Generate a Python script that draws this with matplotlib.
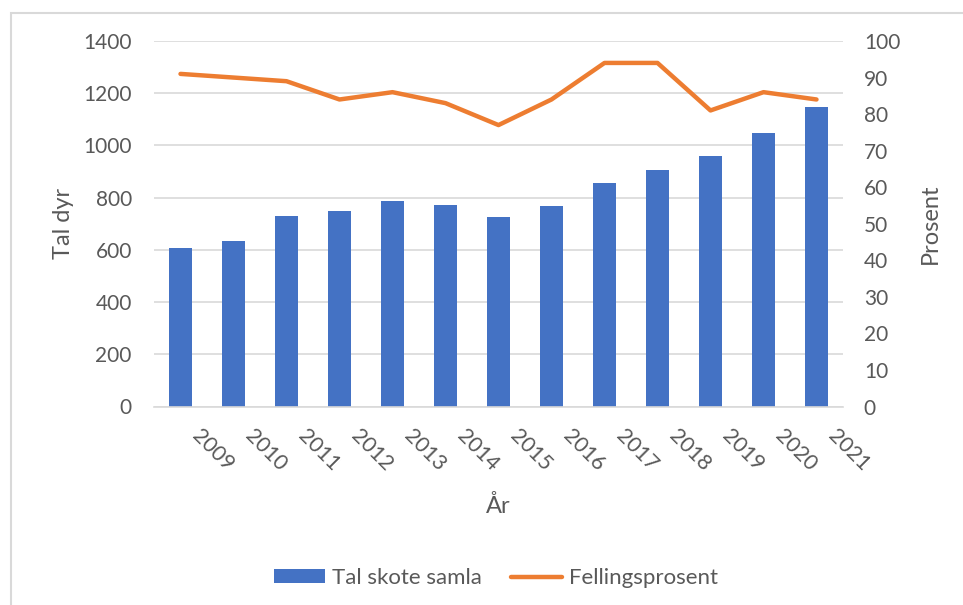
import matplotlib
matplotlib.use("Agg")
import matplotlib.pyplot as plt
from matplotlib.patches import Rectangle
from matplotlib.transforms import ScaledTranslation

# data
years = ["2009", "2010", "2011", "2012", "2013", "2014", "2015",
         "2016", "2017", "2018", "2019", "2020", "2021"]
tal_skote = [607, 634, 730, 749, 787, 772, 726, 768, 856, 906, 960, 1048, 1147]
felling_pct = [91, 90, 89, 84, 86, 83, 77, 84, 94, 94, 81, 86, 84]

blue = "#4472C4"
orange = "#ED7D31"
grey_txt = "#595959"
grid_col = "#D9D9D9"

plt.rcParams["font.family"] = ["Lato", "DejaVu Sans"]

fig = plt.figure(figsize=(9.63, 6.05), dpi=100)
ax = fig.add_axes([154 / 963, 1 - 406.5 / 605, (843 - 154) / 963, (406.5 - 41) / 605])
ax2 = ax.twinx()

x = list(range(len(years)))
bars = ax.bar(x, tal_skote, width=0.42, color=blue, label="Tal skote samla", zorder=2)
line, = ax2.plot(x, felling_pct, color=orange, lw=3.2, solid_capstyle="round",
                 label="Fellingsprosent", zorder=3)

ax.set_xlim(-0.5, len(years) - 0.5)
ax.set_ylim(0, 1400)
ax.set_yticks(range(0, 1401, 200))
ax2.set_ylim(0, 100)
ax2.set_yticks(range(0, 101, 10))

ax.grid(axis="y", color=grid_col, lw=1.2, zorder=0)
ax.set_axisbelow(True)
for a in (ax, ax2):
    for s in a.spines.values():
        s.set_visible(False)
ax.spines["bottom"].set_visible(True)
ax.spines["bottom"].set_color(grid_col)
ax.spines["bottom"].set_linewidth(1.2)

ax.set_xticks(x)
ax.set_xticklabels(years, rotation=-45, ha="left", va="top", rotation_mode="anchor",
                   fontsize=15.5, color=grey_txt)
ax.tick_params(axis="x", length=0, pad=14)
# shift the slanted year labels a bit to the right, like the original
shift = ScaledTranslation(0.22, 0, fig.dpi_scale_trans)
for lab in ax.get_xticklabels():
    lab.set_transform(lab.get_transform() + shift)

ax.tick_params(axis="y", length=0, labelsize=15, labelcolor=grey_txt, pad=16)
ax2.tick_params(axis="y", length=0, labelsize=15, labelcolor=grey_txt, pad=15)

ax.set_ylabel("Tal dyr", fontsize=17, color=grey_txt, labelpad=7)
ax2.set_ylabel("Prosent", fontsize=17, color=grey_txt, labelpad=14)
ax.set_xlabel("År", fontsize=17, color=grey_txt, labelpad=14)

fig.legend([bars, line], ["Tal skote samla", "Fellingsprosent"],
           loc="center", bbox_to_anchor=(496 / 963, 1 - 578 / 605), ncol=2,
           frameon=False, fontsize=16, labelcolor=grey_txt,
           handlelength=2.3, handleheight=0.55, columnspacing=1.3, handletextpad=0.3)

# chart border
fig.patches.append(Rectangle((11 / 963, -0.1), 1.2, 1 - 13 / 605 + 0.1,
                             transform=fig.transFigure, fill=False,
                             edgecolor=grid_col, lw=1.5))

fig.savefig("out.png", dpi=100)
